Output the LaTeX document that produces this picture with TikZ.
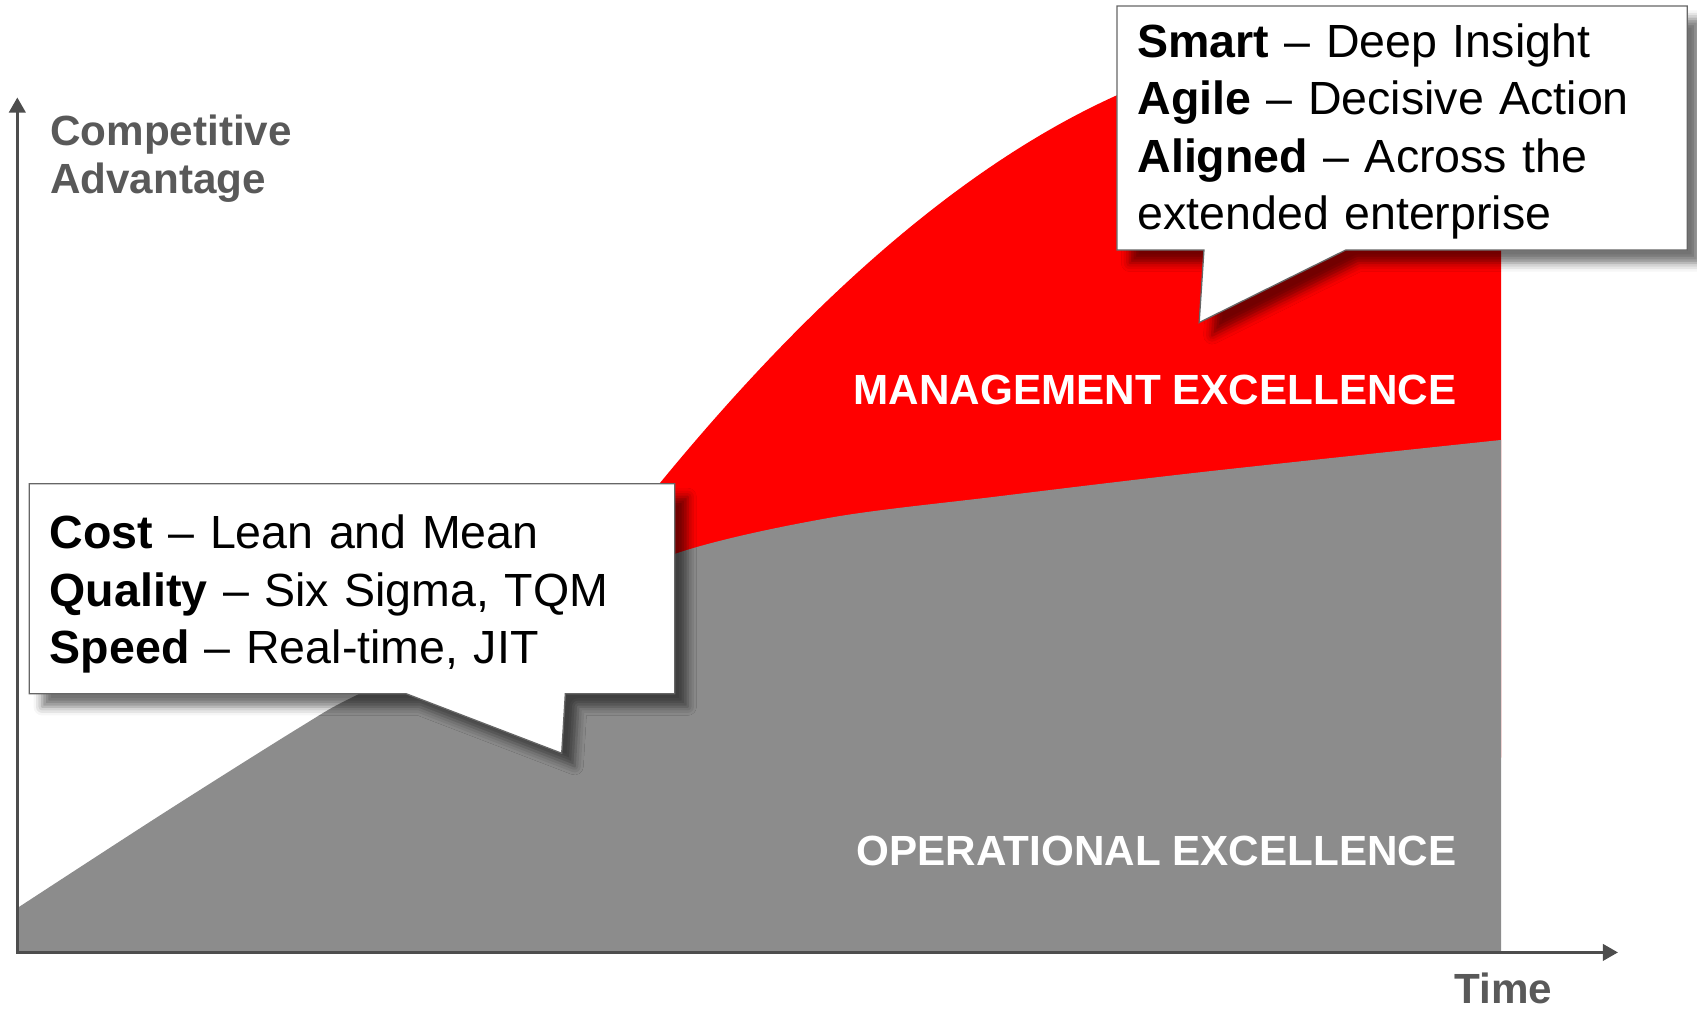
\documentclass[tikz,border=0pt]{standalone}
\usepackage{fontspec}
\setmainfont{Liberation Sans}
\usetikzlibrary{arrows.meta,shapes.callouts,shadows.blur}

\definecolor{mgmtred}{HTML}{FF0000}
\definecolor{opgray}{HTML}{8C8C8C}
\definecolor{axisgray}{HTML}{4D4D4D}
\definecolor{labelgray}{HTML}{595959}

\tikzset{
  axisline/.style={draw=axisgray, line width=1.5pt,
    {Triangle[length=7pt,width=7.5pt]}-{Triangle[length=7pt,width=7.5pt]}},
  axislabel/.style={font=\fontsize{19.5}{22.25}\selectfont\bfseries,
    text=labelgray, inner sep=0pt},
  bandlabel/.style={font=\fontsize{19.5}{22.25}\selectfont\bfseries,
    text=white, inner sep=0pt, anchor=base east},
  calloutbox/.style={rectangle callout, fill=white, draw=black!60,
    line width=0.6pt, font=\fontsize{21.5}{26.5}\selectfont, align=left,
    inner xsep=9.5pt, inner ysep=0pt,
    blur shadow={shadow xshift=6pt, shadow yshift=-6pt,
      shadow blur radius=4pt, shadow opacity=55}},
}

\begin{document}
\begin{tikzpicture}[x=0.5pt, y=-0.5pt]
\useasboundingbox (0,0) rectangle (1568,934);

% management excellence band
\fill[mgmtred] (500,620) -- (560,509)
  .. controls (717,305) and (875,158.7) .. (1032,88)
  .. controls (1150,35) and (1250,15) .. (1387,12)
  -- (1387,700) -- cycle;

% operational excellence band
\fill[opgray] (16,880) -- plot[smooth] coordinates {(16,839) (150,752)
  (277,672) (330,642) (480,572) (629,510) (769,478) (919,459) (1112,436)
  (1387,406.5)} -- (1387,880) -- cycle;

% axes
\coordinate (origin) at (16,880);
\coordinate (ytip) at (16,90);
\coordinate (xtip) at (1495,880);
\draw[axisline] (ytip) -- (origin) -- (xtip);

\node[axislabel, anchor=north west, align=left] (advantage) at (46,106)
  {Competitive\\Advantage};
\node[axislabel, anchor=base] (time) at (1389,927) {Time};

\node[bandlabel] (mgmt) at (1346,374) {MANAGEMENT EXCELLENCE};
\node[bandlabel] (ops) at (1346,800) {OPERATIONAL EXCELLENCE};

% callouts
\coordinate (costtip) at (519,696);
\coordinate (smarttip) at (1108,298);

\node[calloutbox, minimum width=298.25pt, minimum height=97pt,
  text width=279.25pt, callout absolute pointer={(costtip)},
  callout pointer width=73.5pt] (cost) at (325.25,544)
  {\rule{0pt}{20.5pt}\textbf{Cost} -- Lean and Mean\\
   \textbf{Quality} -- Six Sigma, TQM\\
   \textbf{Speed} -- Real-time, JIT};

\node[calloutbox, minimum width=263.5pt, minimum height=112.75pt,
  text width=244.5pt, callout absolute pointer={(smarttip)},
  callout pointer width=65.5pt] (smart) at (1295.5,118.25)
  {\rule{0pt}{18.75pt}\textbf{Smart} -- Deep Insight\\
   \textbf{Agile} -- Decisive Action\\
   \textbf{Aligned} -- Across the\\
   extended enterprise};
\end{tikzpicture}
\end{document}
